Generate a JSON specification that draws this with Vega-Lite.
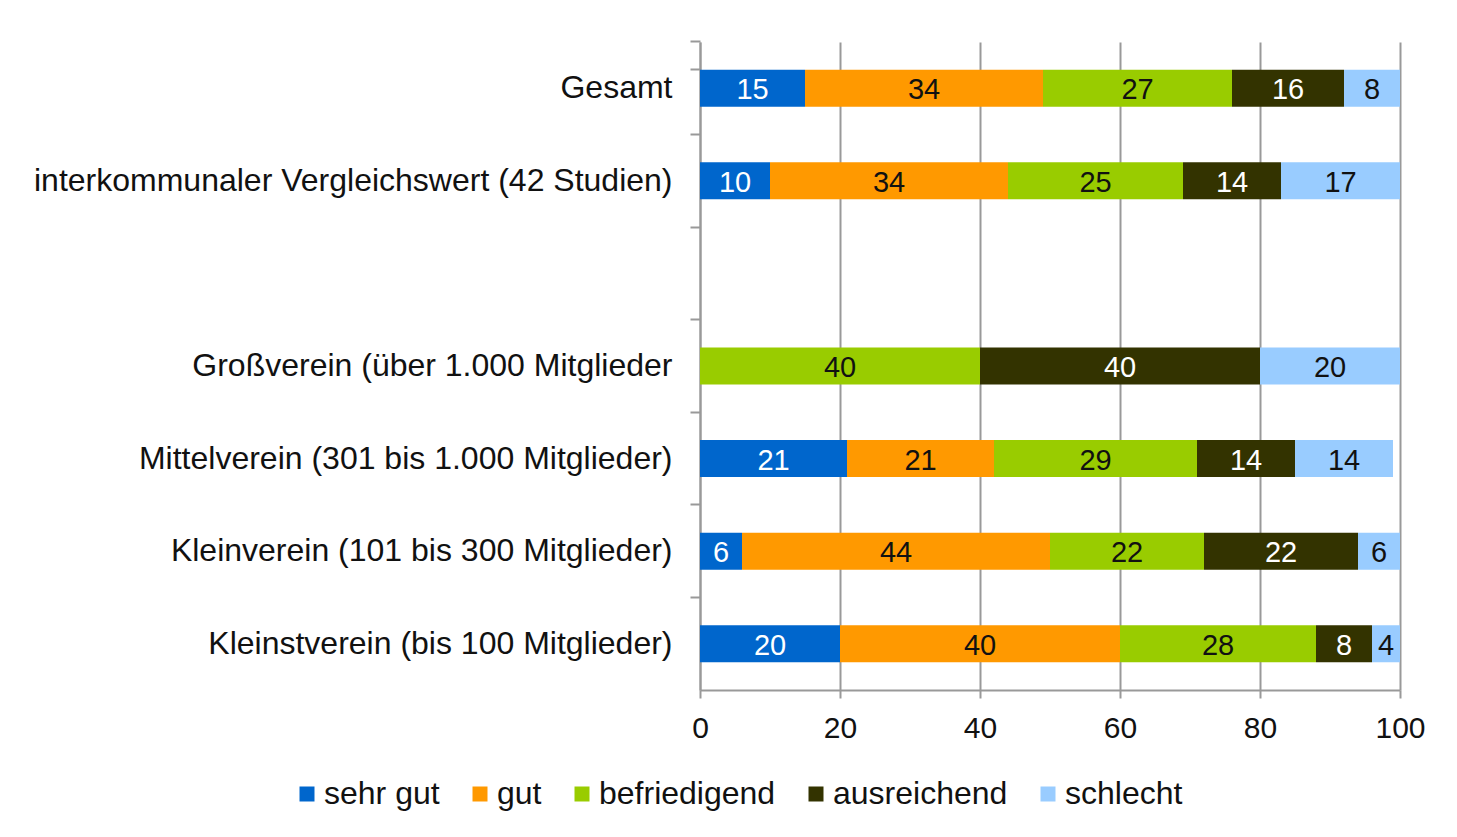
{
  "$schema": "https://vega.github.io/schema/vega-lite/v6.json",
  "width": 700,
  "height": 648,
  "autosize": {"type": "none"},
  "padding": {"left": 700, "top": 42, "right": 57, "bottom": 147},
  "background": "white",
  "data": {
    "values": [
      {"row": "Gesamt", "cat": "sehr gut", "order": 1, "value": 15},
      {"row": "Gesamt", "cat": "gut", "order": 2, "value": 34},
      {"row": "Gesamt", "cat": "befriedigend", "order": 3, "value": 27},
      {"row": "Gesamt", "cat": "ausreichend", "order": 4, "value": 16},
      {"row": "Gesamt", "cat": "schlecht", "order": 5, "value": 8},
      {"row": "interkommunaler Vergleichswert (42 Studien)", "cat": "sehr gut", "order": 1, "value": 10},
      {"row": "interkommunaler Vergleichswert (42 Studien)", "cat": "gut", "order": 2, "value": 34},
      {"row": "interkommunaler Vergleichswert (42 Studien)", "cat": "befriedigend", "order": 3, "value": 25},
      {"row": "interkommunaler Vergleichswert (42 Studien)", "cat": "ausreichend", "order": 4, "value": 14},
      {"row": "interkommunaler Vergleichswert (42 Studien)", "cat": "schlecht", "order": 5, "value": 17},
      {"row": "Großverein (über 1.000 Mitglieder", "cat": "befriedigend", "order": 3, "value": 40},
      {"row": "Großverein (über 1.000 Mitglieder", "cat": "ausreichend", "order": 4, "value": 40},
      {"row": "Großverein (über 1.000 Mitglieder", "cat": "schlecht", "order": 5, "value": 20},
      {"row": "Mittelverein (301 bis 1.000 Mitglieder)", "cat": "sehr gut", "order": 1, "value": 21},
      {"row": "Mittelverein (301 bis 1.000 Mitglieder)", "cat": "gut", "order": 2, "value": 21},
      {"row": "Mittelverein (301 bis 1.000 Mitglieder)", "cat": "befriedigend", "order": 3, "value": 29},
      {"row": "Mittelverein (301 bis 1.000 Mitglieder)", "cat": "ausreichend", "order": 4, "value": 14},
      {"row": "Mittelverein (301 bis 1.000 Mitglieder)", "cat": "schlecht", "order": 5, "value": 14},
      {"row": "Kleinverein (101 bis 300 Mitglieder)", "cat": "sehr gut", "order": 1, "value": 6},
      {"row": "Kleinverein (101 bis 300 Mitglieder)", "cat": "gut", "order": 2, "value": 44},
      {"row": "Kleinverein (101 bis 300 Mitglieder)", "cat": "befriedigend", "order": 3, "value": 22},
      {"row": "Kleinverein (101 bis 300 Mitglieder)", "cat": "ausreichend", "order": 4, "value": 22},
      {"row": "Kleinverein (101 bis 300 Mitglieder)", "cat": "schlecht", "order": 5, "value": 6},
      {"row": "Kleinstverein (bis 100 Mitglieder)", "cat": "sehr gut", "order": 1, "value": 20},
      {"row": "Kleinstverein (bis 100 Mitglieder)", "cat": "gut", "order": 2, "value": 40},
      {"row": "Kleinstverein (bis 100 Mitglieder)", "cat": "befriedigend", "order": 3, "value": 28},
      {"row": "Kleinstverein (bis 100 Mitglieder)", "cat": "ausreichend", "order": 4, "value": 8},
      {"row": "Kleinstverein (bis 100 Mitglieder)", "cat": "schlecht", "order": 5, "value": 4}
    ]
  },
  "transform": [
    {"stack": "value", "groupby": ["row"], "sort": [{"field": "order", "order": "ascending"}], "as": ["v0", "v1"]},
    {"calculate": "(datum.v0 + datum.v1) / 2", "as": "mid"}
  ],
  "encoding": {
    "y": {
      "field": "row",
      "type": "nominal",
      "scale": {
        "domain": [
          "Gesamt",
          "interkommunaler Vergleichswert (42 Studien)",
          " ",
          "Großverein (über 1.000 Mitglieder",
          "Mittelverein (301 bis 1.000 Mitglieder)",
          "Kleinverein (101 bis 300 Mitglieder)",
          "Kleinstverein (bis 100 Mitglieder)"
        ],
        "paddingInner": 0.6,
        "paddingOuter": 0.3
      },
      "axis": {
        "title": null,
        "grid": false,
        "domain": true,
        "domainColor": "#999999",
        "domainWidth": 2,
        "ticks": true,
        "bandPosition": -0.75,
        "tickExtra": true,
        "tickSize": 10,
        "tickColor": "#999999",
        "tickWidth": 2,
        "labelFont": "Liberation Sans",
        "labelFontSize": 32,
        "labelColor": "#111111",
        "labelPadding": 18,
        "labelLimit": 800
      }
    }
  },
  "layer": [
    {
      "mark": {"type": "bar"},
      "encoding": {
        "x": {
          "field": "v0",
          "type": "quantitative",
          "scale": {"domain": [0, 100], "nice": false},
          "axis": {
            "title": null,
            "values": [0, 20, 40, 60, 80, 100],
            "grid": true,
            "gridColor": "#999999",
            "gridWidth": 2,
            "domain": true,
            "domainColor": "#999999",
            "domainWidth": 2,
            "ticks": true,
            "tickSize": 8,
            "tickColor": "#999999",
            "tickWidth": 2,
            "labelFont": "Liberation Sans",
            "labelFontSize": 30,
            "labelColor": "#111111",
            "labelPadding": 15,
            "labelFlush": false
          }
        },
        "x2": {"field": "v1"},
        "color": {
          "field": "cat",
          "type": "nominal",
          "scale": {
            "domain": ["sehr gut", "gut", "befriedigend", "ausreichend", "schlecht"],
            "range": ["#0066CC", "#FF9900", "#99CC00", "#333300", "#99CCFF"]
          },
          "legend": {
            "title": null,
            "orient": "none",
            "legendX": -409,
            "legendY": 736,
            "direction": "horizontal",
            "symbolType": "square",
            "symbolSize": 225,
            "symbolStrokeWidth": 0,
            "symbolOpacity": 1,
            "labelFont": "Liberation Sans",
            "labelFontSize": 32,
            "labelColor": "#111111",
            "labelOffset": 1,
            "labelLimit": 500,
            "columnPadding": 24,
            "padding": 0
          }
        }
      }
    },
    {
      "mark": {"type": "text", "font": "Liberation Sans", "fontSize": 29, "baseline": "middle", "align": "center", "dy": 2},
      "encoding": {
        "x": {"field": "mid", "type": "quantitative"},
        "text": {"field": "value", "type": "quantitative"},
        "color": {
          "condition": {"test": "datum.cat === 'sehr gut' || datum.cat === 'ausreichend'", "value": "#ffffff"},
          "value": "#111111"
        }
      }
    }
  ],
  "config": {
    "view": {"stroke": null}
  }
}
